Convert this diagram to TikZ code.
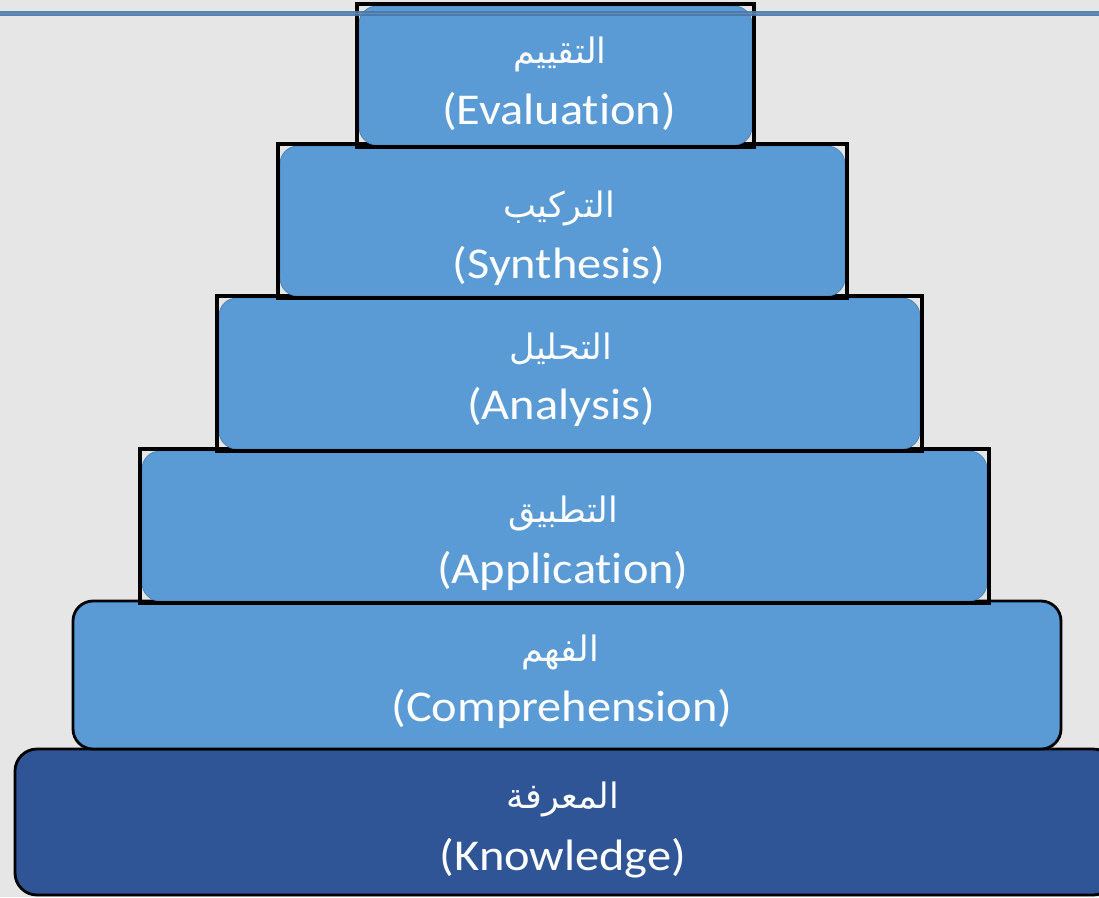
\documentclass[tikz,border=0pt]{standalone}
\usepackage{fontspec}
\setmainfont{Carlito}[Ligatures=NoCommon]
\newfontfamily\arabicfont[Script=Arabic]{DejaVu Sans}
\TeXXeTstate=1
\definecolor{bgGray}{HTML}{E6E6E6}
\definecolor{lightBlue}{HTML}{5B9BD5}
\definecolor{darkBlue}{HTML}{2F5597}
\definecolor{lineBlue}{HTML}{4A78A8}
\newcommand{\widetext}[1]{\scalebox{1.1}[1]{#1}}

\begin{document}
\begin{tikzpicture}[x=1pt,y=-1pt]
\tikzset{
  ar/.style={text=white,font=\arabicfont\fontsize{35}{40}\selectfont,anchor=base},
  en/.style={text=white,font=\fontsize{44}{52}\selectfont,anchor=base},
  tier/.style={fill=lightBlue,draw=lightBlue!85!black,line width=0.8pt,rounded corners=18pt},
  frame/.style={draw=black,line width=3.2pt}
}

\useasboundingbox (0,0) rectangle (1099,897);
\fill[bgGray] (0,0) rectangle (1099,897);

% base levels, rounded with black outline
\filldraw[fill=darkBlue,draw=black,line width=2.8pt,rounded corners=22pt] (15,749) rectangle (1115,895);
\filldraw[fill=lightBlue,draw=black,line width=2.8pt,rounded corners=20pt] (73,601) rectangle (1061,749);

% upper levels, square frame round a rounded fill
\fill[tier] (142,451) rectangle (987,601);
\draw[frame] (140,449) rectangle (989,603);

\fill[tier] (219,298) rectangle (920,449);
\draw[frame] (217,296) rectangle (922,451);

\fill[tier] (280,146) rectangle (845,296);
\draw[frame] (278,144) rectangle (847,298);

\fill[tier] (359,6) rectangle (752,145);
\draw[frame] (357,4) rectangle (754,147);

% rule across the top
\draw[lineBlue,line width=5.5pt,opacity=0.9] (0,13.5) -- (1099,13.5);
\draw[lineBlue!75!white,line width=1.5pt,opacity=0.6] (0,13.5) -- (1099,13.5);

\node[ar] (evalAr) at (560,63) {\beginR التقييم\endR};
\node[en] (evalEn) at (559,124) {\widetext{(Evaluat\kern0pt ion)}};

\node[ar] (synthAr) at (559,217) {\beginR التركيب\endR};
\node[en] (synthEn) at (559,278) {\widetext{(Synthesis)}};

\node[ar] (analAr) at (561,359) {\beginR التحليل\endR};
\node[en] (analEn) at (561,419) {\widetext{(Analysis)}};

\node[ar] (applAr) at (563,522) {\beginR التطبيق\endR};
\node[en] (applEn) at (563,583) {\widetext{(Applicat\kern0pt ion)}};

\node[ar] (compAr) at (560,661) {\beginR الفهم\endR};
\node[en] (compEn) at (562,721) {\widetext{(Comprehension)}};

\node[ar] (knowAr) at (563,808) {\beginR المعرفة\endR};
\node[en] (knowEn) at (563,870) {\widetext{(Knowledge)}};

\end{tikzpicture}
\end{document}
